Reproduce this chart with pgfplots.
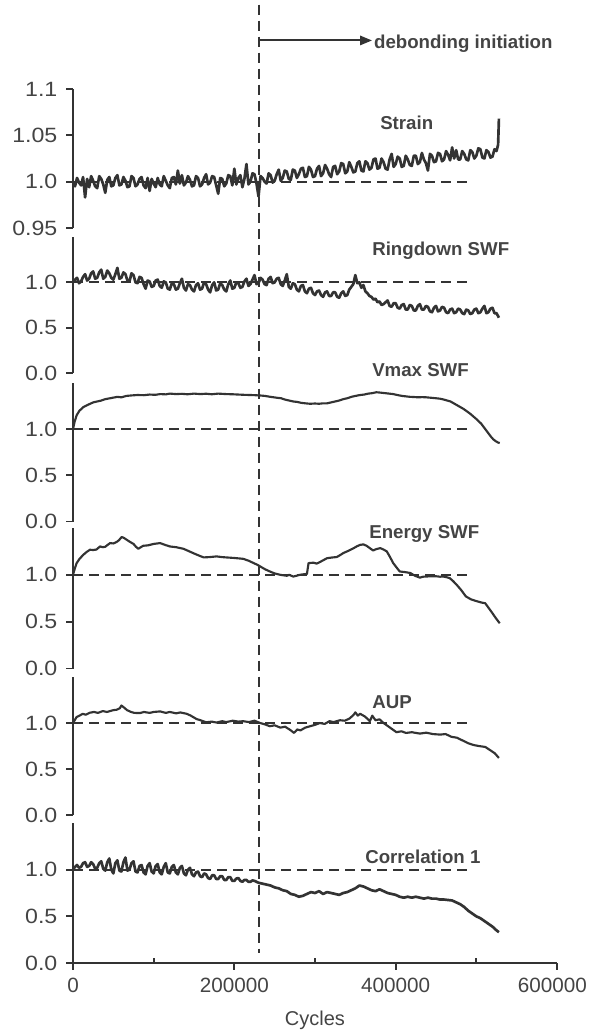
\documentclass[border=0pt]{standalone}
\usepackage{fontspec}
\setmainfont{Liberation Sans}
\usepackage{pgfplots}
\pgfplotsset{compat=1.18}
\usetikzlibrary{arrows.meta}

\definecolor{lc}{HTML}{333333}
\definecolor{tc}{HTML}{444444}

\tikzset{
  series/.style={draw=lc, line width=1.6pt, line join=round},
  noisy/.style={draw=lc, line width=2pt, line join=round},
  dashline/.style={draw=lc, line width=1.5pt, dash pattern=on 7.5pt off 4.5pt},
  ttl/.style={font=\bfseries\fontsize{14}{16}\selectfont, text=tc, anchor=west, inner sep=0pt},
}
\pgfplotsset{
  panel/.style={
    scale only axis, width=363pt,
    xmin=0, xmax=600,
    axis y line*=left,
    tick align=outside, major tick length=5pt,
    axis line style={line width=1.4pt, draw=lc},
    tick style={line width=1.4pt, draw=lc},
    yticklabel style={font=\fontsize{15.5}{17}\selectfont, text=tc, xscale=1.12, xshift=-2.5pt},
    clip=false, anchor=north west,
  },
  toppanel/.style={panel, axis x line=none, xtick=\empty},
  lowpanel/.style={ymin=0, ymax=1.5, ytick={0,0.5,1}, yticklabels={0.0,0.5,1.0}},
}

\begin{document}
\begin{tikzpicture}
\path[use as bounding box] (0,0) rectangle (441.75pt,-774.75pt);

% Strain
\begin{axis}[toppanel, at={(54.75pt,-66.75pt)}, height=104.25pt,
  ymin=0.95, ymax=1.1, ytick={0.95,1.0,1.05,1.1}, yticklabels={0.95,1.0,1.05,1.1}]
\addplot[dashline] coordinates {(0,1) (494,1)};
\addplot[noisy, no marks] coordinates {
(0,1.000)(2.5,0.995)(5,1.004)(7.5,0.999)(10,0.996)(12.5,1.005)(15,0.983)(17.5,1.003)(20,0.994)(22.5,1.006)
(25,1.001)(27.5,0.995)(30,0.993)(32.5,1.006)(35,1.003)(37.5,0.997)(40,0.988)(42.5,1.002)(45,1.005)(47.5,0.995)
(50,0.996)(52.5,1.004)(55,1.007)(57.5,0.996)(60,0.997)(62.5,1.005)(65,1.001)(67.5,0.994)(70,0.995)(72.5,1.006)
(75,1.004)(77.5,0.995)(80,0.997)(82.5,1.003)(85,1.005)(87.5,0.996)(90,0.993)(92.5,1.004)(95,0.990)(97.5,1.003)
(100,0.998)(102.5,0.994)(105,1.004)(107.5,0.997)(110,0.995)(112.5,1.006)(115,1.001)(117.5,0.996)(120,0.993)(122.5,1.004)
(125,1.005)(127.5,0.997)(130,1.012)(132.5,0.998)(135,1.007)(137.5,0.996)(140,0.999)(142.5,1.006)(145,1.002)(147.5,0.995)
(150,0.996)(152.5,1.006)(155,1.004)(157.5,0.995)(160,0.997)(162.5,1.004)(165,1.008)(167.5,0.997)(170,0.999)(172.5,1.006)
(175,1.005)(177.5,0.996)(180,0.987)(182.5,1.004)(185,1.003)(187.5,0.995)(190,0.998)(192.5,1.007)(195,1.006)(197.5,0.996)
(200,1.014)(202.5,0.997)(205,1.004)(207.5,1.007)(210,0.994)(212.5,1.003)(215,1.019)(217.5,0.997)(220,1.000)(222.5,1.009)
(225,1.008)(227.5,0.998)(230,0.984)(232.5,1.006)(235,1.004)(237.5,1.000)(240,0.998)(242.5,1.009)(245,1.007)(247.5,0.999)
(250,1.001)(252.5,1.008)(255,1.013)(257.5,1.001)(260,1.004)(262.5,1.012)(265,1.011)(267.5,1.003)(270,1.002)(272.5,1.013)
(275,1.012)(277.5,1.004)(280,1.008)(282.5,1.014)(285,1.015)(287.5,1.005)(290,1.006)(292.5,1.016)(295,1.013)(297.5,1.005)
(300,1.006)(302.5,1.014)(305,1.017)(307.5,1.006)(310,1.009)(312.5,1.018)(315,1.014)(317.5,1.008)(320,1.005)(322.5,1.016)
(325,1.017)(327.5,1.008)(330,1.011)(332.5,1.020)(335,1.019)(337.5,1.009)(340,1.011)(342.5,1.021)(345,1.016)(347.5,1.010)
(350,1.011)(352.5,1.020)(355,1.022)(357.5,1.012)(360,1.011)(362.5,1.022)(365,1.020)(367.5,1.013)(370,1.015)(372.5,1.024)
(375,1.025)(377.5,1.014)(380,1.015)(382.5,1.025)(385,1.021)(387.5,1.014)(390,1.013)(392.5,1.024)(395,1.030)(397.5,1.016)
(400,1.019)(402.5,1.027)(405,1.025)(407.5,1.016)(410,1.017)(412.5,1.028)(415,1.024)(417.5,1.018)(420,1.017)(422.5,1.028)
(425,1.028)(427.5,1.019)(430,1.021)(432.5,1.031)(435,1.024)(437.5,1.020)(440,1.012)(442.5,1.030)(445,1.028)(447.5,1.021)
(450,1.022)(452.5,1.031)(455,1.030)(457.5,1.022)(460,1.024)(462.5,1.033)(465,1.029)(467.5,1.023)(470,1.037)(472.5,1.025)
(475,1.034)(477.5,1.024)(480,1.024)(482.5,1.033)(485,1.030)(487.5,1.024)(490,1.023)(492.5,1.034)(495,1.032)(497.5,1.025)
(500,1.028)(502.5,1.036)(505,1.035)(507.5,1.026)(510,1.025)(512.5,1.034)(515,1.032)(517.5,1.026)(520,1.027)(522.5,1.035)
(525,1.033)(527,1.040)(528,1.068)};
\node[ttl] at (axis cs:380.6,1.0634) {Strain};
\coordinate (dtop) at (axis cs:231,1.191);
\draw[draw=lc, line width=1.5pt, -{Triangle[length=9pt,width=7pt]}] (axis cs:231,1.1524) -- (axis cs:370.7,1.1524);
\node[ttl] at (axis cs:373,1.149) {debonding initiation};
\end{axis}

% Ringdown SWF
\begin{axis}[toppanel, lowpanel, at={(54.75pt,-177.75pt)}, height=102pt]
\addplot[dashline] coordinates {(0,1) (494,1)};
\addplot[noisy, no marks] coordinates {
(0,1.00)(2.5,1.03)(5,1.05)(7.5,0.99)(10,1.01)(12.5,1.06)(15,1.09)(17.5,1.02)(20,1.04)(22.5,1.10)
(25,1.12)(27.5,1.04)(30,1.05)(32.5,1.11)(35,1.14)(37.5,1.04)(40,1.06)(42.5,1.13)(45,1.10)(47.5,1.05)
(50,1.03)(52.5,1.09)(55,1.16)(57.5,1.04)(60,1.05)(62.5,1.11)(65,1.09)(67.5,1.02)(70,1.01)(72.5,1.10)
(75,1.08)(77.5,1.00)(80,0.99)(82.5,1.06)(85,1.05)(87.5,0.98)(90,0.93)(92.5,1.02)(95,1.01)(97.5,0.95)
(100,0.96)(102.5,1.02)(105,1.03)(107.5,0.96)(110,0.94)(112.5,1.01)(115,1.00)(117.5,0.93)(120,0.92)(122.5,0.99)
(125,0.98)(127.5,0.92)(130,0.93)(132.5,0.99)(135,1.04)(137.5,0.94)(140,0.91)(142.5,0.98)(145,0.97)(147.5,0.92)
(150,0.90)(152.5,0.97)(155,0.99)(157.5,0.92)(160,0.93)(162.5,1.00)(165,0.98)(167.5,0.92)(170,0.89)(172.5,0.97)
(175,1.00)(177.5,0.91)(180,0.92)(182.5,0.99)(185,0.97)(187.5,0.92)(190,0.90)(192.5,0.98)(195,1.02)(197.5,0.93)
(200,0.94)(202.5,1.00)(205,0.99)(207.5,0.94)(210,0.95)(212.5,1.01)(215,1.04)(217.5,0.96)(220,0.98)(222.5,1.03)
(225,1.08)(227.5,0.98)(230,0.99)(232.5,1.05)(235,1.03)(237.5,0.98)(240,0.97)(242.5,1.04)(245,1.06)(247.5,0.99)
(250,1.00)(252.5,1.04)(255,1.05)(257.5,0.98)(260,0.96)(262.5,1.02)(265,1.09)(267.5,0.95)(270,0.93)(272.5,0.99)
(275,0.98)(277.5,0.92)(280,0.90)(282.5,0.96)(285,0.97)(287.5,0.90)(290,0.88)(292.5,0.93)(295,0.94)(297.5,0.88)
(300,0.86)(302.5,0.90)(305,0.91)(307.5,0.86)(310,0.84)(312.5,0.89)(315,0.90)(317.5,0.85)(320,0.85)(322.5,0.89)
(325,0.89)(327.5,0.84)(330,0.83)(332.5,0.88)(335,0.90)(337.5,0.85)(340,0.86)(342.5,0.92)(345,0.95)(347.5,0.98)
(350,1.08)(352.5,0.99)(355,1.00)(357.5,0.94)(360,0.97)(362.5,0.90)(365,0.88)(367.5,0.85)(370,0.84)(372.5,0.81)
(375,0.82)(377.5,0.78)(380,0.79)(382.5,0.75)(385,0.76)(387.5,0.78)(390,0.80)(392.5,0.74)(395,0.73)(397.5,0.77)
(400,0.77)(402.5,0.72)(405,0.71)(407.5,0.75)(410,0.76)(412.5,0.70)(415,0.70)(417.5,0.75)(420,0.74)(422.5,0.69)
(425,0.69)(427.5,0.74)(430,0.76)(432.5,0.70)(435,0.70)(437.5,0.74)(440,0.73)(442.5,0.68)(445,0.67)(447.5,0.72)
(450,0.74)(452.5,0.68)(455,0.69)(457.5,0.73)(460,0.72)(462.5,0.67)(465,0.66)(467.5,0.70)(470,0.71)(472.5,0.66)
(475,0.67)(477.5,0.71)(480,0.70)(482.5,0.66)(485,0.65)(487.5,0.70)(490,0.69)(492.5,0.65)(495,0.66)(497.5,0.70)
(500,0.71)(502.5,0.66)(505,0.67)(507.5,0.71)(510,0.74)(512.5,0.66)(515,0.67)(517.5,0.71)(520,0.72)(522.5,0.66)
(525,0.66)(528,0.61)};
\node[ttl] at (axis cs:370.7,1.352) {Ringdown SWF};
\end{axis}

% Vmax SWF
\begin{axis}[toppanel, lowpanel, at={(54.75pt,-287.25pt)}, height=103.875pt]
\addplot[dashline] coordinates {(0,1) (494,1)};
\addplot[series, no marks] coordinates {
(0,1.00)(2,1.08)(4.5,1.15)(8,1.20)(13,1.24)(20,1.27)(25,1.29)(30,1.30)(35,1.31)(40,1.325)
(46,1.335)(55,1.35)(60,1.345)(66,1.36)(72,1.365)(80,1.37)(88,1.368)(95,1.375)(102,1.372)(108,1.38)
(115,1.377)(120,1.385)(128,1.38)(135,1.383)(142,1.378)(150,1.385)(158,1.38)(165,1.384)(172,1.378)(180,1.385)
(190,1.38)(198,1.378)(205,1.375)(212,1.372)(220,1.37)(226,1.368)(232,1.365)(238,1.36)(245,1.35)(253,1.34)
(258,1.335)(263,1.32)(268,1.31)(273,1.30)(278,1.295)(283,1.285)(288,1.28)(294,1.275)(300,1.278)(305,1.275)
(310,1.28)(315,1.28)(320,1.29)(325,1.30)(330,1.31)(335,1.325)(340,1.335)(345,1.35)(350,1.36)(356,1.37)
(361,1.375)(366,1.385)(371,1.39)(376,1.40)(382,1.395)(387,1.39)(392,1.385)(397,1.38)(402,1.37)(408,1.36)
(413,1.355)(418,1.35)(423,1.348)(428,1.345)(433,1.347)(438,1.345)(444,1.34)(450,1.335)(455,1.33)(460,1.32)
(464,1.31)(468,1.30)(472,1.28)(476,1.26)(480,1.24)(484,1.22)(488,1.195)(492,1.17)(496,1.14)(500,1.11)
(503,1.085)(506,1.06)(509,1.025)(512,0.99)(515,0.955)(518,0.92)(521,0.89)(524,0.87)(527,0.855)(529,0.85)};
\node[ttl] at (axis cs:370.7,1.635) {Vmax SWF};
\end{axis}

% Energy SWF
\begin{axis}[toppanel, lowpanel, at={(54.75pt,-396pt)}, height=105.375pt]
\addplot[dashline] coordinates {(0,1) (494,1)};
\addplot[series, no marks] coordinates {
(0,1.00)(2,1.06)(4.5,1.125)(8,1.17)(12.8,1.214)(17,1.245)(21,1.268)(25,1.265)(29,1.27)(33.5,1.303)
(37,1.295)(40,1.30)(43,1.32)(46,1.339)(50,1.335)(54,1.35)(57,1.37)(60.3,1.404)(63,1.395)(66.5,1.375)
(70,1.355)(75,1.33)(78,1.30)(81,1.278)(84,1.295)(87,1.31)(93,1.315)(100,1.33)(108,1.339)(114,1.32)
(120,1.303)(128,1.295)(137,1.278)(143,1.255)(149,1.232)(155,1.21)(162,1.186)(170,1.19)(178,1.197)(184,1.19)
(190,1.186)(200,1.18)(211,1.171)(218,1.15)(224,1.125)(228,1.11)(232,1.09)(238,1.06)(244,1.036)(250,1.015)
(257,1.0)(261,0.995)(265,0.99)(268,1.0)(273,0.982)(277,0.99)(281,1.0)(285,1.005)(290,1.01)(292,1.125)
(298,1.13)(302,1.12)(306,1.136)(310,1.155)(315,1.178)(321,1.185)(327,1.19)(331,1.21)(335,1.232)(341,1.255)
(348,1.285)(352,1.305)(356,1.32)(360,1.325)(364,1.31)(368,1.285)(372,1.26)(376,1.275)(381,1.285)(385,1.27)
(389,1.25)(393,1.19)(397,1.125)(401,1.08)(405,1.036)(411,1.03)(418,1.02)(424,0.99)(430,0.97)(434,0.98)
(438,0.982)(444,0.985)(450,0.985)(455,0.98)(459,0.982)(463,0.975)(467,0.965)(471,0.935)(475,0.90)(481,0.84)
(487,0.77)(493,0.74)(500,0.72)(506,0.705)(511,0.697)(515,0.65)(520,0.59)(524,0.54)(529,0.483)};
\node[ttl] at (axis cs:367,1.44) {Energy SWF};
\end{axis}

% AUP
\begin{axis}[toppanel, lowpanel, at={(54.75pt,-507.75pt)}, height=103.5pt]
\addplot[dashline] coordinates {(0,1) (494,1)};
\addplot[series, no marks] coordinates {
(0,1.00)(4.5,1.065)(8,1.08)(12,1.10)(16,1.09)(21,1.112)(26,1.12)(31,1.11)(37,1.13)(42,1.12)
(50,1.14)(54,1.144)(58,1.16)(60,1.19)(63,1.17)(67,1.14)(72,1.12)(76,1.11)(83,1.108)(88,1.12)
(95,1.11)(100,1.12)(108,1.126)(115,1.11)(120,1.12)(128,1.105)(133,1.115)(141,1.10)(146,1.08)(153,1.044)
(158,1.03)(165,1.008)(172,1.015)(178,1.005)(185,1.02)(190,1.01)(198,1.025)(205,1.015)(211,1.02)(218,1.01)
(225,1.025)(232,1.0)(238,0.985)(244,0.965)(250,0.975)(257,0.95)(263,0.96)(270,0.92)(274,0.892)(278,0.93)
(282,0.92)(288,0.95)(294,0.965)(300,0.98)(306,1.0)(312,0.99)(318,1.02)(323,1.01)(331,1.03)(337,1.025)
(343,1.05)(348,1.09)(350,1.116)(353,1.08)(356,1.10)(362,1.07)(368,1.02)(371,1.08)(375,1.03)(380,1.04)
(385,1.00)(393,0.95)(401,0.90)(407,0.91)(413,0.892)(420,0.90)(430,0.885)(438,0.895)(446,0.88)(455,0.874)
(462,0.88)(469,0.85)(476,0.84)(483,0.81)(490,0.78)(497,0.76)(503,0.75)(511,0.74)(518,0.70)(523,0.67)(528,0.62)};
\node[ttl] at (axis cs:370.7,1.224) {AUP};
\end{axis}

% Correlation 1
\begin{axis}[panel, lowpanel, at={(54.75pt,-617.25pt)}, height=105pt,
  axis x line*=bottom, xtick={0,200,400,600}, xticklabels={0,200000,400000,\hspace*{-7pt}600000},
  extra x ticks={100,300,500}, extra x tick labels={},
  extra x tick style={tick align=inside, major tick length=4pt},
  xticklabel style={font=\fontsize{15.5}{17}\selectfont, text=tc, yshift=-3pt},
  xlabel={Cycles},
  xlabel style={font=\fontsize{15}{17}\selectfont, text=tc, at={(axis description cs:0.5,0)}, anchor=center, yshift=-43pt}]
\addplot[dashline] coordinates {(0,1) (494,1)};
\addplot[noisy, no marks] coordinates {
(0,1.00)(2.5,1.03)(5,1.05)(7.5,1.02)(10,1.03)(12.5,1.07)(15,1.08)(17.5,1.03)(20,1.04)(22.5,1.08)
(25,1.06)(27.5,1.01)(30,1.02)(32.5,1.07)(35,1.09)(37.5,1.01)(40,0.99)(42.5,1.08)(45,1.12)(47.5,1.00)
(50,0.96)(52.5,1.07)(55,1.10)(57.5,0.99)(60,0.98)(62.5,1.08)(65,1.13)(67.5,0.99)(70,1.00)(72.5,1.07)
(75,1.09)(77.5,0.98)(80,0.97)(82.5,1.04)(85,1.05)(87.5,0.97)(90,0.95)(92.5,1.04)(95,1.07)(97.5,0.98)
(100,0.96)(102.5,1.04)(105,1.06)(107.5,0.97)(110,0.95)(112.5,1.03)(115,1.07)(117.5,0.97)(120,0.96)(122.5,1.03)
(125,1.05)(127.5,0.97)(130,0.95)(132.5,1.02)(135,1.04)(137.5,0.96)(140,0.94)(142.5,1.00)(145,1.02)(147.5,0.95)
(150,0.93)(152.5,0.97)(155,0.98)(157.5,0.93)(160,0.92)(162.5,0.96)(165,0.95)(167.5,0.91)(170,0.90)(172.5,0.94)
(175,0.94)(177.5,0.90)(180,0.90)(182.5,0.93)(185,0.93)(187.5,0.89)(190,0.89)(192.5,0.92)(195,0.92)(197.5,0.88)
(200,0.88)(202.5,0.905)(205,0.91)(207.5,0.88)(210,0.87)(212.5,0.89)(215,0.89)(217.5,0.87)(220,0.87)(222.5,0.885)
(225,0.88)(230,0.86)(235,0.85)(240,0.84)(245,0.83)
(250,0.81)(255,0.80)(260,0.78)(265,0.77)(270,0.74)(275,0.73)(280,0.71)(285,0.72)(290,0.74)(295,0.76)
(300,0.75)(305,0.77)(310,0.74)(315,0.76)(320,0.75)(325,0.74)(330,0.73)(335,0.75)(340,0.76)(345,0.78)
(350,0.80)(355,0.83)(360,0.82)(365,0.80)(370,0.78)(375,0.77)(380,0.79)(385,0.77)(390,0.75)(395,0.74)
(400,0.73)(405,0.71)(410,0.70)(415,0.71)(420,0.70)(425,0.71)(430,0.70)(435,0.69)(440,0.70)(445,0.69)
(450,0.69)(455,0.68)(460,0.68)(465,0.675)(470,0.67)(475,0.65)(480,0.63)(485,0.60)(490,0.56)(495,0.53)
(500,0.50)(505,0.48)(510,0.45)(515,0.42)(520,0.39)(525,0.35)(528,0.33)};
\node[ttl] at (axis cs:362,1.138) {Correlation 1};
\coordinate (dbot) at (axis cs:231,0.106);
\end{axis}

\draw[dashline] (dtop) -- (dbot);
\end{tikzpicture}
\end{document}
